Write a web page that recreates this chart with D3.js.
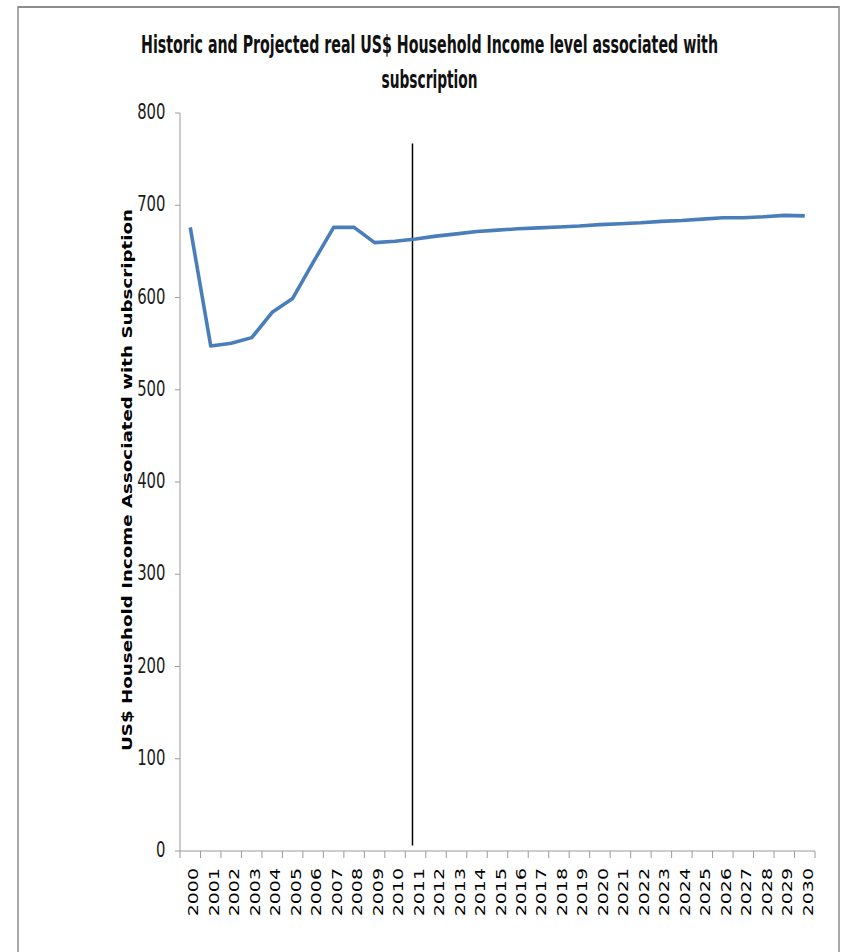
<!DOCTYPE html>
<html>
<head>
<meta charset="utf-8">
<script src="https://cdn.jsdelivr.net/npm/d3@7"></script>
<style>
  html, body { margin: 0; padding: 0; background: #fff; }
  svg { display: block; }
</style>
</head>
<body>
<svg id="chart" width="844" height="952"></svg>
<script>
const titleLines = ["Historic and Projected real US$ Household Income level associated with", "subscription"];
const yAxisTitle = "US$ Household Income Associated with Subscription";
const years = d3.range(2000, 2031).map(String);
const incomeValues = [676, 547.5, 550.5, 556.5, 584, 599, 638, 676, 676, 659.5, 661,
  663.5, 666.5, 669, 671.5, 673, 674.5, 675.5, 676.5, 677.5, 679,
  680, 681, 682.5, 683.5, 685, 686.5, 686.5, 687.5, 689, 688.5];
const yTicks = [0, 100, 200, 300, 400, 500, 600, 700, 800];
const dividerYear = "2011";
const dividerRange = [6, 767];

const svg = d3.select("#chart");
const SY = 1.3; // vertical stretch of the reference picture

// frame
svg.append("line").attr("x1", 18).attr("x2", 839).attr("y1", 7).attr("y2", 7)
  .attr("stroke", "#8c8c8c").attr("stroke-width", 2);
svg.append("line").attr("x1", 18).attr("x2", 18).attr("y1", 6).attr("y2", 952)
  .attr("stroke", "#8c8c8c").attr("stroke-width", 1.5);
svg.append("line").attr("x1", 839).attr("x2", 839).attr("y1", 6).attr("y2", 952)
  .attr("stroke", "#8c8c8c").attr("stroke-width", 1.5);

const x = d3.scaleBand().domain(years).range([180, 815]).padding(0);
const y = d3.scaleLinear().domain([0, 800]).range([851, 113]);
const cx = d => x(d) + x.bandwidth() / 2;

// title
const titleFont = "'Liberation Sans Narrow', 'Arial Narrow', 'DejaVu Sans Condensed', sans-serif";
const titleWidths = [577, 96];
const titleBase = [53, 88];
titleLines.forEach((t, i) => {
  svg.append("text")
    .attr("transform", `translate(429.5,${titleBase[i]}) scale(1,${SY})`)
    .attr("text-anchor", "middle")
    .attr("font-family", titleFont)
    .attr("font-weight", "bold")
    .attr("font-size", 19)
    .attr("fill", "#111")
    .attr("textLength", titleWidths[i])
    .attr("lengthAdjust", "spacingAndGlyphs")
    .text(t);
});

// y axis
const gy = svg.append("g");
gy.append("line").attr("x1", 180).attr("x2", 180).attr("y1", y(800)).attr("y2", y(0))
  .attr("stroke", "#9a9a9a").attr("stroke-width", 1);
yTicks.forEach(v => {
  gy.append("line").attr("x1", 175).attr("x2", 180).attr("y1", y(v)).attr("y2", y(v))
    .attr("stroke", "#9a9a9a").attr("stroke-width", 1);
  gy.append("text")
    .attr("transform", `translate(165.5,${y(v) + 6}) scale(1,${SY})`)
    .attr("text-anchor", "end")
    .attr("font-family", titleFont)
    .attr("font-size", 16.5)
    .attr("fill", "#1a1a1a")
    .text(v);
});

// y axis title
svg.append("text")
  .attr("transform", `translate(131.5,480) scale(1,${SY}) rotate(-90)`)
  .attr("text-anchor", "middle")
  .attr("font-family", "'DejaVu Sans', Verdana, sans-serif")
  .attr("font-weight", "bold")
  .attr("font-size", 14.8)
  .attr("fill", "#000")
  .attr("textLength", 542 / SY)
  .attr("lengthAdjust", "spacingAndGlyphs")
  .text(yAxisTitle);

// x axis
const gx = svg.append("g");
gx.append("line").attr("x1", 180).attr("x2", 815).attr("y1", y(0)).attr("y2", y(0))
  .attr("stroke", "#9a9a9a").attr("stroke-width", 1);
years.concat([null]).forEach((d, i) => {
  const xp = d === null ? x.range()[1] : x(d);
  gx.append("line").attr("x1", xp).attr("x2", xp).attr("y1", y(0)).attr("y2", y(0) + 7)
    .attr("stroke", "#9a9a9a").attr("stroke-width", 1);
});
years.forEach(d => {
  gx.append("text")
    .attr("transform", `translate(${cx(d) + 8},868) scale(1,${SY}) rotate(-90)`)
    .attr("text-anchor", "end")
    .attr("font-family", "'DejaVu Sans', Verdana, sans-serif")
    .attr("font-size", 14.6)
    .attr("fill", "#000")
    .text(d);
});

// divider line
const dx = cx(dividerYear) - 0.15 * x.bandwidth();
svg.append("line")
  .attr("x1", dx).attr("x2", dx)
  .attr("y1", y(dividerRange[1])).attr("y2", y(dividerRange[0]))
  .attr("stroke", "#000").attr("stroke-width", 1.5);

// data line
const data = years.map((d, i) => ({ year: d, value: incomeValues[i] }));
svg.append("path")
  .datum(data)
  .attr("fill", "none")
  .attr("stroke", "#4a7ebb")
  .attr("stroke-width", 3.6)
  .attr("stroke-linejoin", "round")
  .attr("stroke-linecap", "butt")
  .attr("d", d3.line().x(d => cx(d.year)).y(d => y(d.value)));
</script>
</body>
</html>
